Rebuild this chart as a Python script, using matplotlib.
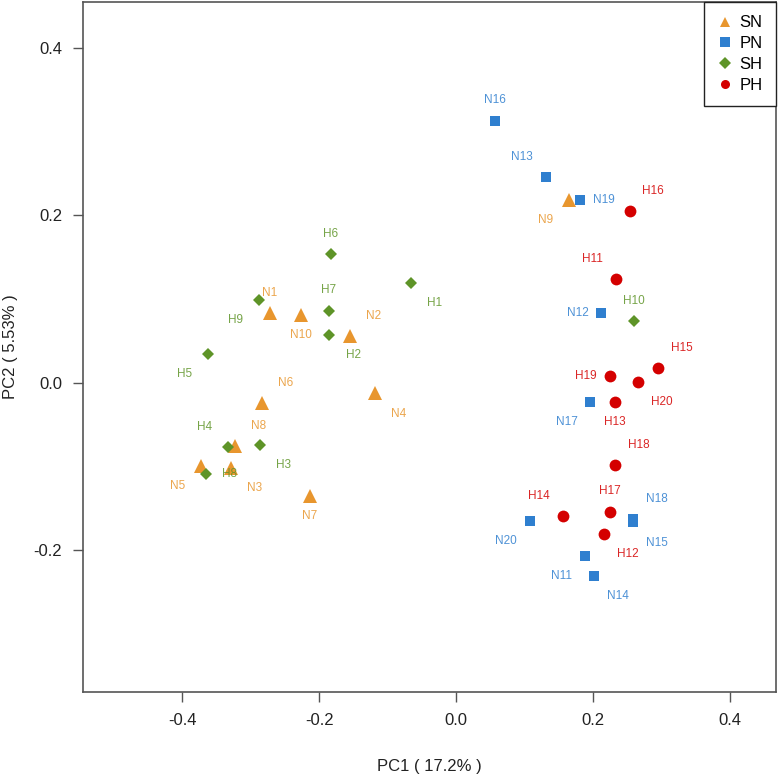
import numpy as np
from matplotlib import pyplot as plt

plt.rcParams['font.family'] = ['Liberation Sans', 'DejaVu Sans']
plt.rcParams['axes.unicode_minus'] = False

# SN 组 (三角形)
sn_names = ['N1', 'N2', 'N3', 'N4', 'N5', 'N6', 'N7', 'N8', 'N9', 'N10']
sn_x = [-0.272, -0.155, -0.329, -0.119, -0.373, -0.283, -0.214, -0.323, 0.165, -0.226]
sn_y = [0.083, 0.056, -0.102, -0.013, -0.100, -0.024, -0.135, -0.076, 0.218, 0.081]

# PN 组 (方块)
pn_names = ['N11', 'N12', 'N13', 'N14', 'N15', 'N16', 'N17', 'N18', 'N19', 'N20']
pn_x = [0.189, 0.212, 0.131, 0.202, 0.259, 0.057, 0.196, 0.259, 0.182, 0.108]
pn_y = [-0.207, 0.083, 0.245, -0.231, -0.167, 0.313, -0.023, -0.163, 0.218, -0.165]

# SH 组 (菱形)
sh_names = ['H1', 'H2', 'H3', 'H4', 'H5', 'H6', 'H7', 'H8', 'H9', 'H10']
sh_x = [-0.066, -0.185, -0.286, -0.333, -0.362, -0.183, -0.186, -0.366, -0.288, 0.260]
sh_y = [0.119, 0.057, -0.074, -0.077, 0.034, 0.154, 0.086, -0.109, 0.099, 0.074]

# PH 组 (圆点)
ph_names = ['H11', 'H12', 'H13', 'H14', 'H15', 'H16', 'H17', 'H18', 'H19', 'H20']
ph_x = [0.234, 0.216, 0.232, 0.156, 0.295, 0.254, 0.225, 0.233, 0.225, 0.266]
ph_y = [0.124, -0.181, -0.023, -0.159, 0.017, 0.205, -0.154, -0.099, 0.008, 0.001]

# 标签相对点的方向 (dx, dy)
sn_dir = [(0, 1), (1, 1), (1, -1), (1, -1), (-1, -1), (1, 1), (0, -1), (1, 1), (-1, -1), (0, -1)]
pn_dir = [(-1, -1), (-1, 0), (-1, 1), (1, -1), (1, -1), (0, 1), (-1, -1), (1, 1), (1, 0), (-1, -1)]
sh_dir = [(1, -1), (1, -1), (1, -1), (-1, 1), (-1, -1), (0, 1), (0, 1), (1, 0), (-1, -1), (0, 1)]
ph_dir = [(-1, 1), (1, -1), (0, -1), (-1, 1), (1, 1), (1, 1), (0, 1), (1, 1), (-1, 0), (1, -1)]

groups = [
    ('SN', sn_names, sn_x, sn_y, sn_dir, '^', 9.5, '#E8962E'),
    ('PN', pn_names, pn_x, pn_y, pn_dir, 's', 7, '#2F7FCF'),
    ('SH', sh_names, sh_x, sh_y, sh_dir, 'D', 6.5, '#5E9428'),
    ('PH', ph_names, ph_x, ph_y, ph_dir, 'o', 8.5, '#D40000'),
]

fig = plt.figure(figsize=(7.78, 7.80), dpi=100)
ax = fig.add_axes([0.1067, 0.1128, 0.8907, 0.8846])

for name, labs, xs, ys, dirs, mk, ms, col in groups:
    ax.plot(xs, ys, linestyle='none', marker=mk, markersize=ms,
            color=col, markeredgewidth=0, label=name)
    for lab, x, y, (dx, dy) in zip(labs, xs, ys, dirs):
        ax.annotate(lab, (x, y), xytext=(dx * 17, dy * 14.5), textcoords='offset points',
                    ha='center', va='center', fontsize=8.5, color=col, alpha=0.85)

ax.set_xlim(-0.5453, 0.4678)
ax.set_ylim(-0.3696, 0.4546)
ax.set_xticks([-0.4, -0.2, 0.0, 0.2, 0.4])
ax.set_yticks([-0.2, 0.0, 0.2, 0.4])
ax.tick_params(length=7, width=1, color='#555555', labelsize=12, pad=8, labelcolor='#222222')
for s in ax.spines.values():
    s.set_color('#555555')
    s.set_linewidth(1.2)

ax.set_xlabel('PC1 ( 17.2% )', fontsize=12, color='#222222')
ax.set_ylabel('PC2 ( 5.53% )', fontsize=12, color='#222222')
ax.xaxis.set_label_coords(0.5, -0.097)
ax.yaxis.set_label_coords(-0.094, 0.5)

leg = ax.legend(loc='upper right', borderaxespad=0, fontsize=12, handletextpad=0.35,
                handlelength=1.0, labelspacing=0.35, borderpad=0.8, fancybox=False, framealpha=1)
leg.get_frame().set_edgecolor('#222222')
leg.get_frame().set_linewidth(1.0)
for h in leg.legend_handles:
    h.set_markersize(6.5)

fig.savefig('out.png', dpi=100)
